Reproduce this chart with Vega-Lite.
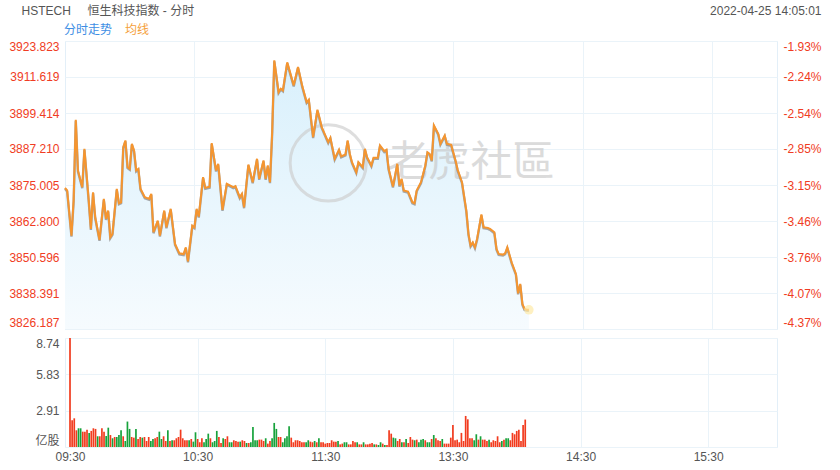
{
 "$schema": "https://vega.github.io/schema/vega-lite/v6.json",
 "padding": {"left": 8, "top": 3, "right": 0, "bottom": 0},
 "background": "white",
 "config": {"font": "Liberation Sans, Noto Sans CJK SC", "view": {"stroke": "#e3eff8"}},
 "resolve": {"scale": {"color": "independent"}},
 "spacing": 9,
 "bounds": "flush",
 "datasets": {
  "price": [
   {"t":0,"p":3874.05},{"t":1,"p":3873.14},{"t":3,"p":3857.86},{"t":4,"p":3869.74},{"t":5,"p":3897.14},{"t":6,"p":3879.93},{"t":8,"p":3874.26},{"t":9,"p":3887.29},{"t":11,"p":3869.74},{"t":12,"p":3860.13},{"t":13,"p":3872.56},{"t":14,"p":3864.07},{"t":16,"p":3856.40},{"t":18,"p":3870.32},{"t":19,"p":3863.53},{"t":20,"p":3866.35},{"t":21,"p":3857.28},{"t":22,"p":3858.44},{"t":24,"p":3873.71},{"t":25,"p":3868.82},{"t":26,"p":3869.16},{"t":27,"p":3887.84},{"t":28,"p":3890.11},{"t":29,"p":3881.05},{"t":30,"p":3880.50},{"t":31,"p":3888.99},{"t":32,"p":3886.72},{"t":33,"p":3879.93},{"t":34,"p":3880.50},{"t":35,"p":3873.71},{"t":37,"p":3870.86},{"t":39,"p":3870.32},{"t":40,"p":3872.02},{"t":41,"p":3858.98},{"t":43,"p":3862.95},{"t":44,"p":3857.86},{"t":46,"p":3866.35},{"t":47,"p":3860.68},{"t":49,"p":3866.92},{"t":51,"p":3855.04},{"t":53,"p":3851.85},{"t":55,"p":3851.60},{"t":56,"p":3853.89},{"t":57,"p":3849.14},{"t":59,"p":3861.25},{"t":60,"p":3860.68},{"t":61,"p":3866.92},{"t":62,"p":3864.31},{"t":64,"p":3877.65},{"t":65,"p":3874.05},{"t":67,"p":3874.40},{"t":68,"p":3889.19},{"t":70,"p":3879.93},{"t":71,"p":3882.20},{"t":73,"p":3866.58},{"t":75,"p":3875.41},{"t":78,"p":3874.26},{"t":79,"p":3874.60},{"t":81,"p":3870.86},{"t":82,"p":3872.02},{"t":83,"p":3867.47},{"t":85,"p":3881.96},{"t":87,"p":3875.95},{"t":89,"p":3883.90},{"t":90,"p":3877.11},{"t":92,"p":3883.32},{"t":93,"p":3877.11},{"t":94,"p":3881.62},{"t":95,"p":3875.95},{"t":96,"p":3892.39},{"t":97,"p":3917.27},{"t":99,"p":3906.51},{"t":100,"p":3907.66},{"t":101,"p":3907.09},{"t":103,"p":3916.59},{"t":106,"p":3908.78},{"t":108,"p":3915.00},{"t":110,"p":3908.44},{"t":112,"p":3903.11},{"t":113,"p":3903.93},{"t":115,"p":3891.23},{"t":117,"p":3900.53},{"t":119,"p":3894.63},{"t":122,"p":3889.53},{"t":123,"p":3891.03},{"t":125,"p":3883.90},{"t":127,"p":3886.95},{"t":128,"p":3884.68},{"t":130,"p":3885.36},{"t":131,"p":3890.11},{"t":132,"p":3885.60},{"t":133,"p":3882.74},{"t":135,"p":3879.35},{"t":136,"p":3882.74},{"t":138,"p":3881.05},{"t":139,"p":3887.29},{"t":140,"p":3884.44},{"t":142,"p":3881.62},{"t":143,"p":3884.24},{"t":145,"p":3884.24},{"t":146,"p":3888.41},{"t":148,"p":3886.48},{"t":149,"p":3886.95},{"t":150,"p":3880.50},{"t":152,"p":3874.49},{"t":153,"p":3878.23},{"t":154,"p":3882.20},{"t":155,"p":3874.83},{"t":156,"p":3877.11},{"t":157,"p":3873.14},{"t":159,"p":3872.80},{"t":161,"p":3869.16},{"t":162,"p":3868.82},{"t":163,"p":3873.14},{"t":165,"p":3875.95},{"t":167,"p":3881.62},{"t":168,"p":3886.14},{"t":169,"p":3885.60},{"t":170,"p":3883.32},{"t":171,"p":3895.20},{"t":173,"p":3892.39},{"t":174,"p":3888.99},{"t":176,"p":3891.81},{"t":177,"p":3888.99},{"t":179,"p":3888.60},{"t":181,"p":3883.32},{"t":182,"p":3880.16},{"t":184,"p":3875.95},{"t":186,"p":3866.35},{"t":187,"p":3858.44},{"t":188,"p":3854.46},{"t":189,"p":3855.59},{"t":190,"p":3853.89},{"t":191,"p":3856.74},{"t":193,"p":3864.99},{"t":194,"p":3860.68},{"t":196,"p":3860.47},{"t":197,"p":3860.13},{"t":199,"p":3858.98},{"t":200,"p":3853.34},{"t":201,"p":3851.65},{"t":203,"p":3851.41},{"t":204,"p":3851.85},{"t":205,"p":3853.89},{"t":207,"p":3848.80},{"t":209,"p":3844.86},{"t":210,"p":3838.30},{"t":211,"p":3841.46},{"t":212,"p":3834.67},{"t":213,"p":3832.98},{"t":214,"p":3832.74},{"t":215,"p":3832.70}
  ],
  "vol": [
   {"t":0,"v":8.74,"d":"u"},{"t":1,"v":2.14,"d":"u"},{"t":2,"v":2.30,"d":"u"},{"t":3,"v":1.34,"d":"u"},{"t":4,"v":1.50,"d":"d"},{"t":5,"v":1.50,"d":"d"},{"t":6,"v":1.23,"d":"u"},{"t":7,"v":1.23,"d":"u"},{"t":8,"v":1.39,"d":"u"},{"t":9,"v":1.13,"d":"d"},{"t":10,"v":1.29,"d":"u"},{"t":11,"v":1.50,"d":"u"},{"t":12,"v":1.45,"d":"u"},{"t":13,"v":0.86,"d":"d"},{"t":14,"v":0.86,"d":"u"},{"t":15,"v":1.50,"d":"u"},{"t":16,"v":1.23,"d":"u"},{"t":17,"v":0.88,"d":"d"},{"t":18,"v":1.55,"d":"d"},{"t":19,"v":0.96,"d":"u"},{"t":20,"v":0.70,"d":"d"},{"t":21,"v":0.80,"d":"u"},{"t":22,"v":0.80,"d":"d"},{"t":23,"v":0.96,"d":"d"},{"t":24,"v":1.34,"d":"d"},{"t":25,"v":0.86,"d":"u"},{"t":26,"v":0.48,"d":"d"},{"t":27,"v":2.04,"d":"d"},{"t":28,"v":1.45,"d":"d"},{"t":29,"v":0.80,"d":"u"},{"t":30,"v":0.75,"d":"u"},{"t":31,"v":1.45,"d":"d"},{"t":32,"v":0.64,"d":"u"},{"t":33,"v":0.80,"d":"u"},{"t":34,"v":0.75,"d":"d"},{"t":35,"v":0.80,"d":"u"},{"t":36,"v":0.48,"d":"u"},{"t":37,"v":0.80,"d":"u"},{"t":38,"v":0.48,"d":"d"},{"t":39,"v":0.64,"d":"d"},{"t":40,"v":0.70,"d":"u"},{"t":41,"v":0.80,"d":"u"},{"t":42,"v":1.23,"d":"d"},{"t":43,"v":0.64,"d":"d"},{"t":44,"v":0.86,"d":"u"},{"t":45,"v":0.48,"d":"u"},{"t":46,"v":1.34,"d":"d"},{"t":47,"v":0.48,"d":"u"},{"t":48,"v":0.54,"d":"d"},{"t":49,"v":0.54,"d":"u"},{"t":50,"v":0.70,"d":"u"},{"t":51,"v":0.80,"d":"u"},{"t":52,"v":1.39,"d":"u"},{"t":53,"v":0.70,"d":"u"},{"t":54,"v":0.54,"d":"u"},{"t":55,"v":0.54,"d":"u"},{"t":56,"v":0.54,"d":"d"},{"t":57,"v":0.64,"d":"u"},{"t":58,"v":0.43,"d":"d"},{"t":59,"v":1.18,"d":"d"},{"t":60,"v":0.64,"d":"u"},{"t":61,"v":0.38,"d":"u"},{"t":62,"v":0.70,"d":"u"},{"t":63,"v":0.38,"d":"d"},{"t":64,"v":0.64,"d":"d"},{"t":65,"v":1.07,"d":"d"},{"t":66,"v":0.70,"d":"u"},{"t":67,"v":0.38,"d":"d"},{"t":68,"v":0.48,"d":"d"},{"t":69,"v":1.29,"d":"d"},{"t":70,"v":0.80,"d":"u"},{"t":71,"v":0.32,"d":"u"},{"t":72,"v":0.70,"d":"d"},{"t":73,"v":0.64,"d":"u"},{"t":74,"v":0.86,"d":"u"},{"t":75,"v":0.38,"d":"d"},{"t":76,"v":0.38,"d":"d"},{"t":77,"v":0.54,"d":"u"},{"t":78,"v":0.48,"d":"u"},{"t":79,"v":0.43,"d":"u"},{"t":80,"v":0.43,"d":"d"},{"t":81,"v":0.54,"d":"u"},{"t":82,"v":0.48,"d":"u"},{"t":83,"v":0.32,"d":"d"},{"t":84,"v":0.32,"d":"u"},{"t":85,"v":0.38,"d":"d"},{"t":86,"v":1.61,"d":"d"},{"t":87,"v":0.54,"d":"d"},{"t":88,"v":0.54,"d":"d"},{"t":89,"v":0.59,"d":"u"},{"t":90,"v":0.59,"d":"u"},
   {"t":91,"v":0.48,"d":"u"},{"t":92,"v":0.70,"d":"d"},{"t":93,"v":0.27,"d":"u"},{"t":94,"v":0.48,"d":"u"},{"t":95,"v":0.70,"d":"d"},{"t":96,"v":1.93,"d":"d"},{"t":97,"v":1.45,"d":"d"},{"t":98,"v":0.80,"d":"u"},{"t":99,"v":0.80,"d":"u"},{"t":100,"v":0.38,"d":"d"},{"t":101,"v":0.70,"d":"d"},{"t":102,"v":0.86,"d":"d"},{"t":103,"v":1.66,"d":"d"},{"t":104,"v":0.75,"d":"u"},{"t":105,"v":0.38,"d":"u"},{"t":106,"v":0.54,"d":"u"},{"t":107,"v":0.54,"d":"u"},{"t":108,"v":0.48,"d":"u"},{"t":109,"v":0.38,"d":"u"},{"t":110,"v":0.38,"d":"u"},{"t":111,"v":0.38,"d":"d"},{"t":112,"v":0.54,"d":"d"},{"t":113,"v":0.43,"d":"u"},{"t":114,"v":0.38,"d":"u"},{"t":115,"v":0.48,"d":"d"},{"t":116,"v":0.38,"d":"u"},{"t":117,"v":0.70,"d":"d"},{"t":118,"v":0.38,"d":"u"},{"t":119,"v":0.38,"d":"u"},{"t":120,"v":0.27,"d":"u"},{"t":121,"v":0.32,"d":"u"},{"t":122,"v":0.32,"d":"u"},{"t":123,"v":0.54,"d":"u"},{"t":124,"v":0.43,"d":"u"},{"t":125,"v":0.43,"d":"u"},{"t":126,"v":0.48,"d":"d"},{"t":127,"v":0.21,"d":"u"},{"t":128,"v":0.27,"d":"u"},{"t":129,"v":0.38,"d":"d"},{"t":130,"v":0.38,"d":"d"},{"t":131,"v":0.21,"d":"u"},{"t":132,"v":0.21,"d":"u"},{"t":133,"v":0.48,"d":"u"},{"t":134,"v":0.38,"d":"u"},{"t":135,"v":0.38,"d":"d"},{"t":136,"v":0.21,"d":"u"},{"t":137,"v":0.21,"d":"u"},{"t":138,"v":0.38,"d":"d"},{"t":139,"v":0.21,"d":"u"},{"t":140,"v":0.21,"d":"u"},{"t":141,"v":0.27,"d":"u"},{"t":142,"v":0.32,"d":"u"},{"t":143,"v":0.21,"d":"d"},{"t":144,"v":0.21,"d":"u"},{"t":145,"v":0.16,"d":"d"},{"t":146,"v":0.38,"d":"d"},{"t":147,"v":0.27,"d":"u"},{"t":148,"v":0.16,"d":"d"},{"t":149,"v":0.16,"d":"u"},
   {"t":150,"v":1.34,"d":"u"},{"t":151,"v":1.07,"d":"u"},{"t":152,"v":0.75,"d":"d"},{"t":153,"v":0.70,"d":"d"},{"t":154,"v":0.48,"d":"u"},{"t":155,"v":0.64,"d":"u"},{"t":156,"v":0.38,"d":"d"},{"t":157,"v":0.38,"d":"u"},{"t":158,"v":0.64,"d":"d"},{"t":159,"v":0.32,"d":"u"},{"t":160,"v":0.80,"d":"u"},{"t":161,"v":0.59,"d":"u"},{"t":162,"v":0.54,"d":"d"},{"t":163,"v":0.59,"d":"u"},{"t":164,"v":0.38,"d":"d"},{"t":165,"v":0.59,"d":"d"},{"t":166,"v":0.64,"d":"d"},{"t":167,"v":0.54,"d":"u"},{"t":168,"v":0.38,"d":"d"},{"t":169,"v":0.38,"d":"d"},{"t":170,"v":0.64,"d":"u"},{"t":171,"v":0.96,"d":"d"},{"t":172,"v":0.70,"d":"u"},{"t":173,"v":0.54,"d":"u"},{"t":174,"v":0.48,"d":"u"},{"t":175,"v":0.64,"d":"d"},{"t":176,"v":0.27,"d":"u"},{"t":177,"v":0.27,"d":"u"},{"t":178,"v":0.27,"d":"u"},{"t":179,"v":0.75,"d":"u"},{"t":180,"v":1.77,"d":"u"},{"t":181,"v":0.54,"d":"u"},{"t":182,"v":0.59,"d":"u"},{"t":183,"v":0.38,"d":"u"},{"t":184,"v":1.13,"d":"u"},{"t":185,"v":0.48,"d":"u"},{"t":186,"v":2.49,"d":"u"},{"t":187,"v":2.22,"d":"u"},{"t":188,"v":0.70,"d":"u"},{"t":189,"v":0.70,"d":"u"},{"t":190,"v":0.54,"d":"d"},{"t":191,"v":1.02,"d":"d"},{"t":192,"v":0.59,"d":"u"},{"t":193,"v":0.86,"d":"d"},{"t":194,"v":0.59,"d":"u"},{"t":195,"v":0.59,"d":"u"},{"t":196,"v":0.48,"d":"u"},{"t":197,"v":0.59,"d":"d"},{"t":198,"v":0.38,"d":"u"},{"t":199,"v":0.54,"d":"u"},{"t":200,"v":0.48,"d":"u"},{"t":201,"v":0.86,"d":"u"},{"t":202,"v":0.38,"d":"u"},{"t":203,"v":0.48,"d":"d"},{"t":204,"v":0.59,"d":"u"},{"t":205,"v":0.70,"d":"d"},{"t":206,"v":0.70,"d":"d"},{"t":207,"v":0.54,"d":"u"},{"t":208,"v":1.13,"d":"u"},{"t":209,"v":1.02,"d":"u"},{"t":210,"v":1.29,"d":"u"},{"t":211,"v":1.39,"d":"u"},{"t":212,"v":0.48,"d":"u"},{"t":213,"v":1.77,"d":"u"},{"t":214,"v":2.20,"d":"u"}
  ],
  "wm": [{"name": "老虎社區", "t": 149, "p": 3882.5, "ct": 122, "cp": 3882.5}]
 },
 "vconcat": [
  {
   "width": 712,
   "height": 288,
   "layer": [
    {
     "data": {"name": "price"},
     "mark": {"type": "area", "color": {"gradient": "linear", "x1": 0, "y1": 0, "x2": 0, "y2": 1, "stops": [{"offset": 0, "color": "#d9f0fc"}, {"offset": 1, "color": "#f6fbfe"}]}},
     "encoding": {
      "x": {"field": "t", "type": "quantitative", "scale": {"domain": [0, 330], "nice": false, "zero": false},
       "axis": {"orient": "top", "values": [60, 120, 180, 240, 300], "labels": false, "ticks": false, "domain": false, "grid": true, "gridColor": "#eaf3f9",
        "title": "HSTECH\u00a0\u00a0\u00a0\u00a0\u00a0恒生科技指数 - 分时", "titleX": -44, "titleY": -31, "titleAlign": "left", "titleBaseline": "middle", "titleAngle": 0, "titleFontSize": 12, "titleFontWeight": "normal", "titleColor": "#555555"}},
      "y": {"field": "p", "type": "quantitative", "scale": {"domain": [3826.187, 3923.823], "nice": false, "zero": false},
       "axis": {"orient": "left", "values": [3826.187, 3838.391, 3850.596, 3862.8, 3875.005, 3887.21, 3899.414, 3911.619, 3923.823], "format": ".3f", "labelColor": "#f03c23", "labelFontSize": 12, "labelFlush": true, "ticks": false, "domain": false, "grid": true, "gridColor": "#eaf3f9", "labelPadding": 6, "title": null}},
      "y2": {"datum": 3826.187}
     }
    },
    {
     "data": {"name": "wm"},
     "mark": {"type": "text", "align": "left", "baseline": "middle", "fontSize": 42, "font": "Noto Sans CJK TC", "color": "#c8c8c8", "opacity": 0.65},
     "encoding": {
      "x": {"field": "t", "type": "quantitative"},
      "y": {"field": "p", "type": "quantitative", "axis": null},
      "text": {"field": "name"}
     }
    },
    {
     "data": {"name": "wm"},
     "mark": {"type": "point", "shape": "circle", "filled": false, "size": 5800, "strokeWidth": 3, "color": "#cdcdcd", "opacity": 0.65},
     "encoding": {
      "x": {"field": "ct", "type": "quantitative"},
      "y": {"field": "cp", "type": "quantitative", "axis": null}
     }
    },
    {
     "data": {"name": "price"},
     "mark": {"type": "line", "color": "#8a8a8a", "strokeWidth": 2.4, "yOffset": 1, "opacity": 0.75},
     "encoding": {
      "x": {"field": "t", "type": "quantitative"},
      "y": {"field": "p", "type": "quantitative", "axis": null}
     }
    },
    {
     "data": {"name": "price"},
     "mark": {"type": "line", "strokeWidth": 2},
     "encoding": {
      "x": {"field": "t", "type": "quantitative"},
      "y": {"field": "p", "type": "quantitative",
       "axis": {"orient": "right", "values": [3826.187, 3838.391, 3850.596, 3862.8, 3875.005, 3887.21, 3899.414, 3911.619, 3923.823], "labelExpr": "'-' + format((1 - datum.value / 4001.1) * 100, '.2f') + '%'", "labelColor": "#f03c23", "labelFontSize": 12, "labelFlush": true, "ticks": false, "domain": false, "grid": false, "labelPadding": 6,
        "title": "2022-04-25 14:05:01", "titleAngle": 0, "titleAlign": "right", "titleBaseline": "middle", "titleX": 44, "titleY": -31, "titleFontSize": 12, "titleFontWeight": "normal", "titleColor": "#555555"}},
      "color": {"datum": "均线", "type": "nominal", "scale": {"domain": ["分时走势", "均线"], "range": ["#3d8ee4", "#f5952f"]},
       "legend": {"orient": "none", "legendX": -13, "legendY": -17, "direction": "horizontal", "title": null, "symbolSize": 0, "symbolStrokeWidth": 0, "symbolOpacity": 0, "labelOffset": 0, "columnPadding": 0, "labelFontSize": 12, "padding": 0,
        "labelColor": {"expr": "datum.label == '均线' ? '#f5a03a' : '#3d8ee4'"}}}
     }
    },
    {
     "data": {"name": "price"},
     "transform": [{"filter": "datum.t == 215"}],
     "mark": {"type": "point", "filled": true, "color": "#fde9a6", "size": 90, "opacity": 0.7},
     "encoding": {
      "x": {"field": "t", "type": "quantitative"},
      "y": {"field": "p", "type": "quantitative", "axis": null}
     }
    }
   ],
   "resolve": {"axis": {"y": "independent"}}
  },
  {
   "width": 712,
   "height": 109,
   "data": {"name": "vol"},
   "mark": {"type": "bar", "width": 1.7},
   "encoding": {
    "x": {"field": "t", "type": "quantitative", "scale": {"domain": [0, 330], "nice": false, "zero": false},
     "axis": {"values": [0, 60, 120, 180, 240, 300], "labelExpr": "datum.value == 0 ? '09:30' : datum.value == 60 ? '10:30' : datum.value == 120 ? '11:30' : datum.value == 180 ? '13:30' : datum.value == 240 ? '14:30' : '15:30'", "labelFlush": true, "ticks": false, "domain": false, "grid": true, "gridColor": "#eaf3f9", "labelColor": "#555555", "labelFontSize": 12, "labelPadding": 4, "title": null}},
    "y": {"field": "v", "type": "quantitative", "scale": {"domain": [0, 8.74], "nice": false},
     "axis": {"values": [0, 2.913, 5.827, 8.74], "labelExpr": "datum.value == 0 ? '亿股' : format(datum.value, '.2f')", "labelFlush": true, "ticks": false, "domain": false, "grid": true, "gridColor": "#eaf3f9", "labelColor": "#555555", "labelFontSize": 12, "labelPadding": 6, "title": null}},
    "color": {"field": "d", "type": "nominal", "scale": {"domain": ["u", "d"], "range": ["#f23b1e", "#17a23b"]}, "legend": null}
   }
  }
 ]
}
